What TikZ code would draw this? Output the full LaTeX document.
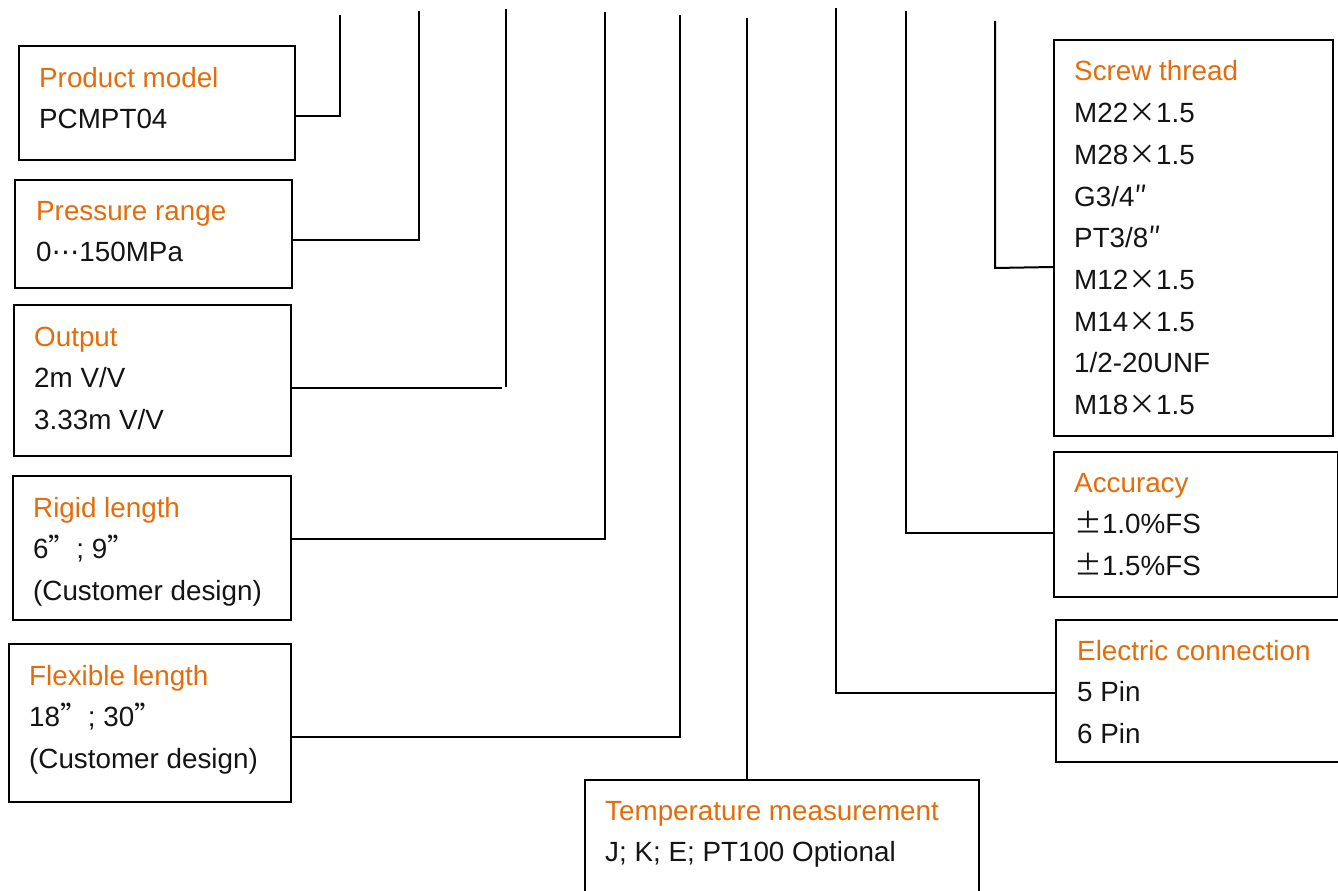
\documentclass[tikz,border=0pt]{standalone}
\usepackage{fontspec}
\setmainfont{Liberation Sans}
\newfontfamily\cjk{Noto Sans CJK SC}
\newfontfamily\dvs{DejaVu Sans}
\definecolor{ttl}{RGB}{228,108,10}
\definecolor{txt}{RGB}{20,20,20}
\newcommand{\xx}{{\cjk ×}}
\newcommand{\pmx}{{\cjk ±}}
\newcommand{\qq}{{\cjk ”}}
\newcommand{\stk}[1]{\vtop{\halign{##\hfil\cr#1\crcr}}}
\tikzset{
  box/.style={draw=black, line width=2pt, rectangle, inner sep=0pt},
  lbl/.style={anchor=base west, inner sep=0pt, text=txt,
    font=\fontsize{27.8}{41.7}\selectfont},
  wire/.style={draw=black, line width=2pt, line cap=rect},
}
\begin{document}
\begin{tikzpicture}[x=1pt,y=-1pt]
\useasboundingbox (0,0) rectangle (1338,891);
% boxes
\newcommand{\bx}[5]{\node[box, anchor=north west, minimum width=#4-#2, minimum height=#5-#3] (#1) at (#2,#3) {};}
\bx{pm}{18}{45}{294}{159}
\bx{pr}{14}{179}{291}{287}
\bx{out}{13}{304}{290}{455}
\bx{rig}{12}{475}{290}{619}
\bx{flex}{8}{643}{290}{801}
\bx{temp}{584}{779}{978}{905}
\bx{scr}{1053}{39}{1332}{435}
\bx{acc}{1053}{451}{1337}{596}
\bx{ele}{1055}{619}{1340}{761}
% texts
\node[lbl] (tpm) at (39,87) {\stk{\textcolor{ttl}{Product model}\cr PCMPT04}};
\node[lbl] (tpr) at (36,220) {\stk{\textcolor{ttl}{Pressure range}\cr 0{\dvs ⋯}150MPa}};
\node[lbl] (tout) at (34,346) {\stk{\textcolor{ttl}{Output}\cr 2m V/V\cr 3.33m V/V}};
\node[lbl] (trig) at (33,517) {\stk{\textcolor{ttl}{Rigid length}\cr 6\qq; 9\qq\cr (Customer design)}};
\node[lbl] (tflex) at (29,685) {\stk{\textcolor{ttl}{Flexible length}\cr 18\qq; 30\qq\cr (Customer design)}};
\node[lbl] (ttemp) at (605,820) {\stk{\textcolor{ttl}{Temperature measurement}\cr J; K; E; PT100 Optional}};
\node[lbl] (tscr) at (1074,81) {\stk{\textcolor{ttl}{Screw thread}\cr M22\xx1.5\cr M28\xx1.5\cr G3/4{\cjk ″}\cr PT3/8{\cjk ″}\cr M12\xx1.5\cr M14\xx1.5\cr 1/2-20UNF\cr M18\xx1.5}};
\node[lbl] (tacc) at (1074,492) {\stk{\textcolor{ttl}{Accuracy}\cr \pmx1.0\%FS\cr \pmx1.5\%FS}};
\node[lbl] (tele) at (1077,660) {\stk{\textcolor{ttl}{Electric connection}\cr 5 Pin\cr 6 Pin}};
% free ends of connectors
\coordinate (cpm) at (340,16);
\coordinate (cpr) at (419,12);
\coordinate (cout) at (506,10);
\coordinate (crig) at (605,13);
\coordinate (cflex) at (680,16);
\coordinate (ctemp) at (747,19);
\coordinate (cele) at (836,9);
\coordinate (cacc) at (906,12);
\coordinate (cscr) at (995,22);
% connectors
\draw[wire] (pm.east |- 0,116) -| (cpm);
\draw[wire] (pr.east |- 0,240) -| (cpr);
\draw[wire] (out.east |- 0,388) -- (501,388);
\draw[wire] (cout) -- (506,386);
\draw[wire] (rig.east |- 0,539) -| (crig);
\draw[wire] (flex.east |- 0,737) -| (cflex);
\draw[wire] (temp.north -| ctemp) -- (ctemp);
\draw[wire] (ele.west |- 0,693) -| (cele);
\draw[wire] (acc.west |- 0,533) -| (cacc);
\draw[wire] (scr.west |- 0,267) -- (995,268) -- (cscr);
\end{tikzpicture}
\end{document}
